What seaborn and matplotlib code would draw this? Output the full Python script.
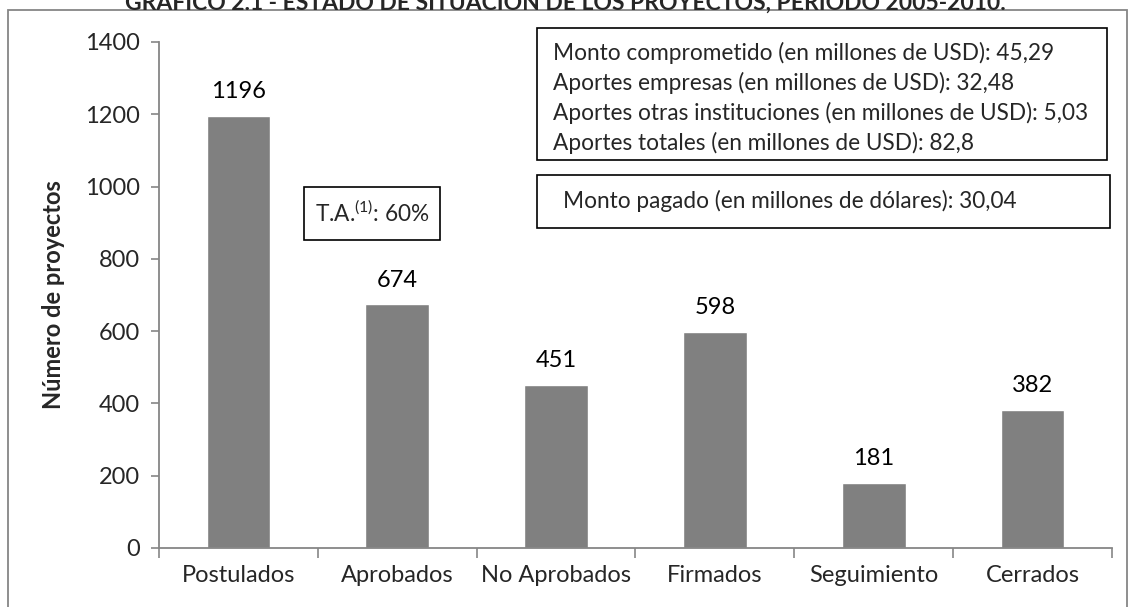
import numpy as np
import pandas as pd
import matplotlib
matplotlib.use("Agg")
import matplotlib.pyplot as plt
import seaborn as sns
from matplotlib.patches import Rectangle

categorias = ["Postulados", "Aprobados", "No Aprobados", "Firmados", "Seguimiento", "Cerrados"]
proyectos = [1196, 674, 451, 598, 181, 382]
titulo = "GRÁFICO 2.1 - ESTADO DE SITUACIÓN DE LOS PROYECTOS, PERIODO 2005-2010."
ylabel = "Número de proyectos"
montos = [
    "Monto comprometido (en millones de USD): 45,29",
    "Aportes empresas (en millones de USD): 32,48",
    "Aportes otras instituciones (en millones de USD): 5,03",
    "Aportes totales (en millones de USD): 82,8",
]
monto_pagado = "Monto pagado (en millones de dólares): 30,04"
tasa = r"T.A.$^{(1)}$: 60%"

sns.set_style("white")
plt.rcParams["font.family"] = ["Lato", "DejaVu Sans"]
plt.rcParams["mathtext.fontset"] = "custom"
plt.rcParams["mathtext.rm"] = "Lato"

FS = 17
FS_BOX = 16.3
W, H = 1131, 607
fig = plt.figure(figsize=(W / 100, H / 100), dpi=100)
ax = fig.add_axes([159 / W, 1 - 548 / H, (1112 - 159) / W, (548 - 42) / H])

df = pd.DataFrame({"cat": categorias, "n": proyectos})
sns.barplot(data=df, x="cat", y="n", color="#808080", saturation=1, width=0.4, ax=ax)

for i, v in enumerate(proyectos):
    ax.annotate(str(v), (i, v), xytext=(0, 10), textcoords="offset points",
                ha="center", va="bottom", fontsize=FS, color="black")

ax.set_ylim(0, 1400)
ax.set_xlim(-0.5, len(categorias) - 0.5)
ax.set_yticks(np.arange(0, 1401, 200))
ax.set_xlabel("")
ax.set_ylabel(ylabel, fontsize=FS, fontweight="bold", labelpad=14)
ax.tick_params(axis="y", labelsize=FS, length=6, width=1.2, color="#868686", direction="out", left=True, pad=8)
ax.tick_params(axis="x", which="major", labelsize=FS, length=0, pad=12)
ax.set_xticks(np.arange(-0.5, len(categorias), 1), minor=True)
ax.tick_params(axis="x", which="minor", length=7, width=1.2, color="#868686", direction="out", bottom=True)
for s in ["top", "right"]:
    ax.spines[s].set_visible(False)
for s in ["left", "bottom"]:
    ax.spines[s].set_color("#868686")
    ax.spines[s].set_linewidth(1.3)

# outer chart frame (bottom edge runs past the image)
fig.patches.append(Rectangle((8 / W, -0.05), (1127 - 8) / W, 1.05 - 10 / H, transform=fig.transFigure,
                             fill=False, edgecolor="#868686", linewidth=1.3))

# title, clipped at the top of the image like the source
fig.text(0.5, 1 - 1 / H, titulo, ha="center", va="center", fontsize=16.5, fontweight="bold")

def caja(x0, y0, x1, y1):
    fig.patches.append(Rectangle((x0 / W, 1 - y1 / H), (x1 - x0) / W, (y1 - y0) / H,
                                 transform=fig.transFigure, fill=False, edgecolor="black", linewidth=1.2))

caja(537, 28, 1107, 160)
for k, linea in enumerate(montos):
    fig.text(553 / W, 1 - (53 + 30 * k) / H, linea, ha="left", va="center", fontsize=FS_BOX)

caja(537, 175, 1110, 228)
fig.text(563 / W, 1 - 201 / H, monto_pagado, ha="left", va="center", fontsize=FS_BOX)

caja(304, 187, 440, 240)
fig.text(372 / W, 1 - 213 / H, tasa, ha="center", va="center", fontsize=FS_BOX)

fig.savefig("out.png", dpi=100)
